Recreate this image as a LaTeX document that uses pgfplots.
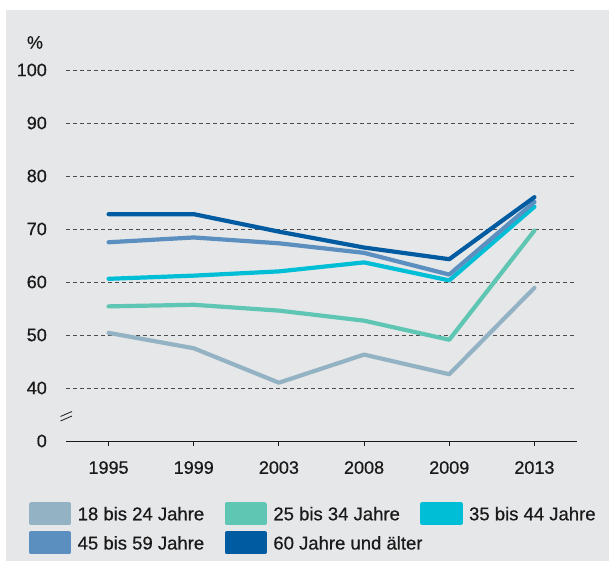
\documentclass[border=0pt]{standalone}
\usepackage{pgfplots}
\pgfplotsset{compat=1.18}
\usepackage{fontspec}
\setmainfont{Liberation Sans}[FakeBold=0.6]
\definecolor{bg}{HTML}{E6E7E8}
\definecolor{txt}{HTML}{1A1A1A}
\definecolor{ca}{HTML}{93B3C4}
\definecolor{cb}{HTML}{5FC6B4}
\definecolor{cc}{HTML}{00BED6}
\definecolor{cd}{HTML}{5B8FC0}
\definecolor{ce}{HTML}{005BA1}
\newcommand{\legtext}[1]{\makebox[147pt][l]{#1}}
\begin{document}
\begin{tikzpicture}
\fill[bg] (6pt,0pt) rectangle (609pt,551pt);
\begin{axis}[
  scale only axis, width=511pt, height=371pt,
  anchor=south west, at={(66pt,120pt)},
  xmin=-0.5, xmax=5.5, ymin=30, ymax=100,
  axis x line*=bottom, axis y line*=left,
  xtick={0,...,5}, xticklabels={1995,1999,2003,2008,2009,2013},
  ytick={30,40,...,100}, yticklabels={0,40,50,60,70,80,90,100},
  tick align=outside, major tick length=5pt,
  x axis line style={line width=0.9pt, color=txt},
  y axis line style={draw=none},
  xtick style={line width=0.9pt, color=txt},
  ytick style={draw=none},
  ymajorgrids, grid style={dashed, dash pattern=on 4pt off 3pt, line width=0.8pt, color=black!70},
  ticklabel style={font=\fontsize{18}{20}\selectfont, text=txt, /pgf/number format/assume math mode=true},
  xticklabel style={inner sep=0pt, anchor=north, yshift=-15pt},
  yticklabel style={inner sep=0pt, anchor=east, xshift=-14pt},
  every axis plot/.append style={line width=4.2pt, line cap=round, line join=round},
  legend columns=3,
  legend cell align=left,
  legend style={at={(rel axis cs:-0.0724,-0.1644)}, anchor=north west,
    draw=none, fill=none, inner sep=0pt, outer sep=0pt,
    column sep=0pt, row sep=6pt,
    font=\fontsize{18.5}{20}\selectfont, text=txt,
    nodes={inner sep=0pt, outer sep=0pt, text depth=0pt}},
  legend image code/.code={\fill[#1] (0pt,-9.5pt) rectangle (38pt,9.5pt); \path (44.5pt,0pt);},
]
\addplot[ca] coordinates {(0,50.4) (1,47.5) (2,41.0) (3,46.3) (4,42.6) (5,58.9)};
\addlegendentry{\legtext{18 bis 24 Jahre}}
\addplot[cb] coordinates {(0,55.4) (1,55.7) (2,54.6) (3,52.7) (4,49.1) (5,69.7)};
\addlegendentry{\legtext{25 bis 34 Jahre}}
\addplot[cc] coordinates {(0,60.6) (1,61.2) (2,62.0) (3,63.7) (4,60.3) (5,74.2)};
\addlegendentry{\legtext{35 bis 44 Jahre}}
\addplot[cd] coordinates {(0,67.5) (1,68.4) (2,67.3) (3,65.5) (4,61.4) (5,75.1)};
\addlegendentry{\legtext{45 bis 59 Jahre}}
\addplot[ce] coordinates {(0,72.8) (1,72.8) (2,69.5) (3,66.5) (4,64.3) (5,76.0)};
\addlegendentry{\legtext{60 Jahre und älter}}
\end{axis}
\node[text=txt, font=\fontsize{18}{20}\selectfont, inner sep=0pt] at (35pt,518.5pt) {\%};
\draw[txt, line width=0.8pt] (60.5pt,144.5pt) -- (72pt,149.5pt);
\draw[txt, line width=0.8pt] (60.5pt,140pt) -- (72pt,145pt);
\pgfresetboundingbox
\path (0pt,0pt) rectangle (609pt,561pt);
\end{tikzpicture}
\end{document}
